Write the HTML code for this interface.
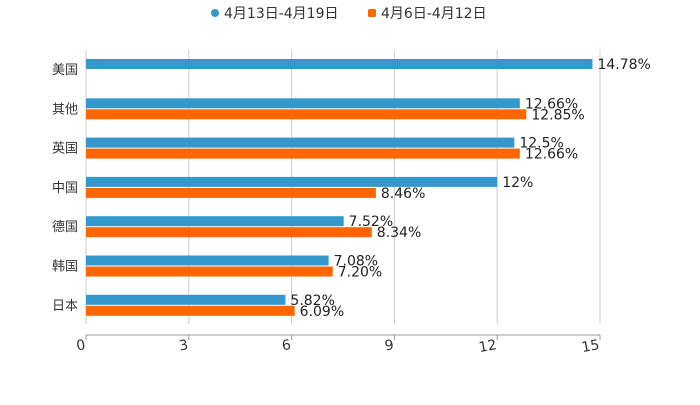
<!DOCTYPE html>
<html><head><meta charset="utf-8"><style>
body{margin:0;background:#fff;}
svg{font-family:"DejaVu Sans","Noto Sans CJK SC",sans-serif;}
</style></head><body>
<svg id="chart" width="700" height="400">
<g>
<g><circle cx="215" cy="13" r="4" fill="#3399cc"/><text x="224" y="18" font-size="14" fill="#333">4月13日-4月19日</text></g>
<g><rect x="368" y="9" width="8" height="8" rx="1.5" fill="#ff6600"/><text x="381" y="18" font-size="14" fill="#333">4月6日-4月12日</text></g>
</g>
<g id="grid"></g>
<g id="bars"></g>
<g id="axes"></g>
</svg>
<script>
const categories=["美国","其他","英国","中国","德国","韩国","日本"];
const seriesA=[14.78,12.66,12.5,12,7.52,7.08,5.82];
const seriesB=[null,12.85,12.66,8.46,8.34,7.20,6.09];
const labelsA=["14.78%","12.66%","12.5%","12%","7.52%","7.08%","5.82%"];
const labelsB=["","12.85%","12.66%","8.46%","8.34%","7.20%","6.09%"];
const ticks=[0,3,6,9,12,15];
const NS="http://www.w3.org/2000/svg";
const x0=86,x1=600,yTop=47,band=39.3,xMax=15;
const xs=v=>x0+v/xMax*(x1-x0);
function mk(t,a,p){const e=document.createElementNS(NS,t);for(const k in a)e.setAttribute(k,a[k]);p.appendChild(e);return e;}
const grid=document.getElementById('grid'),bars=document.getElementById('bars'),axes=document.getElementById('axes');
ticks.forEach((t,i)=>{
 const gl=mk('line',{x1:xs(t),x2:xs(t),y1:50,y2:324,stroke:'#ccc','stroke-width':1},grid);
 
 
 const tk=mk('line',{x1:xs(t),x2:xs(t),y1:335,y2:340,stroke:'#999'},axes);
 
 
 const tx=mk('text',{x:xs(t),y:349,'font-size':14,fill:'#333','text-anchor':'end',transform:`rotate(-10 ${xs(t)} 349)`},axes);
 tx.textContent=t;
 
 
});
const ax=mk('line',{x1:x0,x2:x1,y1:335,y2:335,stroke:'#999','stroke-width':1},axes);


categories.forEach((c,i)=>{
 const by=yTop+i*band+12;
 const cl=mk('text',{x:78,y:by+15,'font-size':13,fill:'#333','text-anchor':'end'},axes);
 cl.textContent=c;
 
 
 if(seriesA[i]!=null){
  const r=mk('rect',{x:x0,y:by,width:xs(seriesA[i])-x0,height:10,fill:'#3399cc'},bars);
  
  
  const l=mk('text',{x:xs(seriesA[i])+5,y:by+10,'font-size':14,fill:'#222'},bars);
  l.textContent=labelsA[i];
  
  
 }
 if(seriesB[i]!=null){
  const r=mk('rect',{x:x0,y:by+11,width:xs(seriesB[i])-x0,height:10,fill:'#ff6600'},bars);
  
  
  const l=mk('text',{x:xs(seriesB[i])+5,y:by+21,'font-size':14,fill:'#222'},bars);
  l.textContent=labelsB[i];
  
  
 }
});
</script>
</body></html>
